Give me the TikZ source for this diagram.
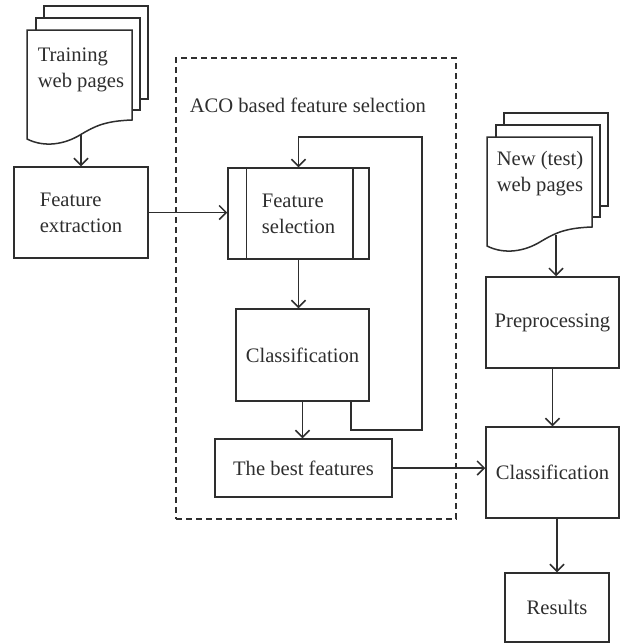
\documentclass[tikz,border=0pt]{standalone}
\usepackage{fontspec}
\setmainfont{Liberation Serif}
\usetikzlibrary{arrows.meta}
\definecolor{ink}{gray}{0.18}
\tikzset{
  docstack/.pic={
    \draw[fill=white] (44,6) rectangle (148,99);
    \draw[fill=white] (36,18) rectangle (140,110);
    \draw[fill=white] (27,30) -- (132,30) -- (132,120)
      .. controls (105,121) and (95,126) .. (80,135)
      .. controls (65,144) and (45,148) .. (27,139) -- cycle;
  },
  box/.style={draw, rectangle, inner sep=0pt, align=center},
  txt/.style={inner sep=0pt, align=left},
  arr/.style={-{Straight Barb[length=3.5pt,width=7pt]}},
}
\begin{document}
\begin{tikzpicture}[x=0.5pt,y=-0.5pt, line width=0.75pt, draw=ink, text=ink,
  every node/.append style={font=\fontsize{10.3}{13}\selectfont}]
\useasboundingbox (0,0) rectangle (620,643);

% document stacks
\pic at (0,0) {docstack};
\pic at (460,107) {docstack};
\node[txt, anchor=north west] (tr) at (37,47) {Training\\web pages};
\node[txt, anchor=north west] (nt) at (496,150) {New (test)\\web pages};
\coordinate (trb) at (81,134);
\coordinate (ntb) at (556,235);

% dashed frame
\node[draw, dashed, dash pattern=on 3pt off 2pt, minimum width=140pt, minimum height=230.5pt] (aco) at (316,288.5) {};
\node[inner sep=0pt, anchor=west] (acol) at (189,105) {ACO based feature selection};

% boxes
\node[box, align=left, minimum width=67pt, minimum height=45.5pt] (fe) at (81,212.5) {Feature\\extraction};
\node[box, align=left, minimum width=70.5pt, minimum height=45.5pt] (fs) at (298.5,213.5) {Feature\\selection};
\draw ([xshift=9.5pt]fs.north west) -- ([xshift=9.5pt]fs.south west);
\draw ([xshift=-8.5pt]fs.north east) -- ([xshift=-8.5pt]fs.south east);
\node[box, minimum width=66.5pt, minimum height=46pt] (cl) at (302.5,355) {Classification};
\node[box, minimum width=88.5pt, minimum height=29pt] (bf) at (303.5,468) {The best features};
\node[box, minimum width=66.5pt, minimum height=45.5pt] (pre) at (552.5,322.5) {Preprocessing};
\node[box, minimum width=66.5pt, minimum height=45.5pt] (c2) at (552.5,472.5) {Classification};
\node[box, minimum width=52pt, minimum height=34.5pt] (res) at (557,607.5) {Results};

% connectors
\draw[arr] (trb) -- (trb |- fe.north);
\draw[arr] (fe.east) -- (fe.east -| fs.west);
\draw[arr] (fs.south) -- (fs.south |- cl.north);
\draw[arr] (cl.south) -- (cl.south |- bf.north);
\coordinate (lx) at (351,0);
\coordinate (lp1) at (422,430);
\coordinate (lp2) at (422,137);
\draw[arr] (cl.south -| lx) -- (lx |- lp1) -- (lp1) -- (lp2) -- (lp2 -| fs.north) -- (fs.north);
\draw[arr] (bf.east) -- (bf.east -| c2.west);
\draw[arr] (ntb) -- (ntb |- pre.north);
\draw[arr] (pre.south) -- (c2.north);
\draw[arr] (c2.south -| res.north) -- (res.north);
\end{tikzpicture}
\end{document}
